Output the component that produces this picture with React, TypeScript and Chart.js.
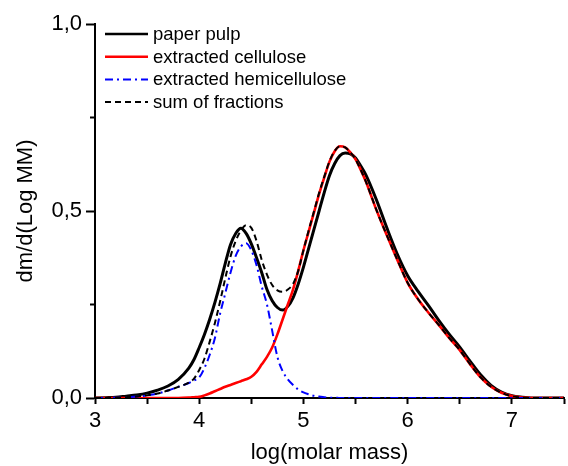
import React, { useEffect, useRef } from "react";
import { Chart, registerables } from "chart.js";

Chart.register(...registerables);

const logMass = [
  3.0, 3.1, 3.2, 3.3, 3.4, 3.5, 3.6, 3.7, 3.8, 3.9, 3.95,
  4.0, 4.05, 4.1, 4.15, 4.2, 4.25, 4.3, 4.35, 4.4, 4.45,
  4.5, 4.55, 4.6, 4.65, 4.7, 4.75, 4.8, 4.85, 4.9, 4.95,
  5.0, 5.05, 5.1, 5.15, 5.2, 5.25, 5.3, 5.35, 5.4, 5.45, 5.5, 5.55, 5.6,
  5.7, 5.8, 5.9, 6.0, 6.1, 6.2, 6.3, 6.4, 6.5, 6.6, 6.7, 6.8, 6.9,
  7.0, 7.1, 7.2, 7.3, 7.4, 7.5,
];

const paperPulp = [
  0.0, 0.001, 0.002, 0.005, 0.008, 0.013, 0.021, 0.032, 0.05, 0.08, 0.103,
  0.135, 0.17, 0.21, 0.255, 0.305, 0.36, 0.41, 0.44, 0.454, 0.44,
  0.412, 0.375, 0.335, 0.29, 0.26, 0.242, 0.235, 0.245, 0.268, 0.305,
  0.35, 0.4, 0.45, 0.5, 0.55, 0.595, 0.627, 0.648, 0.655, 0.653, 0.642, 0.62, 0.596,
  0.53, 0.455, 0.385, 0.327, 0.285, 0.247, 0.207, 0.17, 0.136, 0.098, 0.062, 0.034, 0.016,
  0.006, 0.002, 0, 0, 0, 0,
];

const cellulose = [
  0, 0, 0, 0, 0, 0, 0, 0, 0, 0.001, 0.002,
  0.003, 0.007, 0.012, 0.018, 0.024, 0.03, 0.035, 0.04, 0.045, 0.05,
  0.057, 0.07, 0.09, 0.11, 0.135, 0.17, 0.21, 0.25, 0.29, 0.34,
  0.395, 0.445, 0.495, 0.545, 0.59, 0.632, 0.66, 0.673, 0.67, 0.657, 0.638, 0.61, 0.578,
  0.503, 0.435, 0.37, 0.308, 0.264, 0.228, 0.195, 0.16, 0.128, 0.09, 0.055, 0.03, 0.014,
  0.005, 0.001, 0, 0, 0, 0,
];

const hemicellulose = [
  0, 0, 0.001, 0.002, 0.004, 0.007, 0.012, 0.02, 0.03, 0.04, 0.047,
  0.055, 0.08, 0.115, 0.16, 0.225, 0.28, 0.335, 0.38, 0.405, 0.414,
  0.395, 0.355, 0.298, 0.25, 0.18, 0.11, 0.072, 0.05, 0.035, 0.023,
  0.015, 0.01, 0.006, 0.004, 0.002, 0.001, 0.001, 0, 0, 0, 0, 0, 0,
  0, 0, 0, 0, 0, 0, 0, 0, 0, 0, 0, 0, 0,
  0, 0, 0, 0, 0, 0,
];

const sumFractions = [
  0, 0, 0.001, 0.002, 0.004, 0.007, 0.012, 0.02, 0.03, 0.041, 0.052,
  0.075, 0.105, 0.15, 0.2, 0.258, 0.32, 0.378, 0.42, 0.448, 0.462,
  0.455, 0.42, 0.369, 0.33, 0.302, 0.288, 0.284, 0.29, 0.305, 0.34,
  0.395, 0.448, 0.498, 0.548, 0.592, 0.633, 0.661, 0.673, 0.67, 0.657, 0.638, 0.61, 0.578,
  0.503, 0.435, 0.37, 0.308, 0.264, 0.228, 0.195, 0.16, 0.128, 0.09, 0.055, 0.03, 0.014,
  0.005, 0.001, 0, 0, 0, 0,
];

const seriesLabels = ["paper pulp", "extracted cellulose", "extracted hemicellulose", "sum of fractions"];
const xTitle = "log(molar mass)";
const yTitle = "dm/d(Log MM)";

const FONT = "'Liberation Sans', Arial, Helvetica, sans-serif";

const toPoints = (ys: number[]) => logMass.map((x, i) => ({ x, y: ys[i] }));

const isHalf = (v: number) => Math.abs(v * 2 - Math.round(v * 2)) < 1e-6;

const legendPlugin = {
  id: "insideLegend",
  afterDatasetsDraw(chart: any) {
    const { ctx, chartArea } = chart;
    ctx.save();
    ctx.font = `18.5px ${FONT}`;
    ctx.textBaseline = "middle";
    ctx.fillStyle = "#000";
    chart.data.datasets.forEach((ds: any, i: number) => {
      const y = chartArea.top + 10 + i * 22.7;
      const x0 = chartArea.left + 10;
      ctx.beginPath();
      ctx.strokeStyle = ds.borderColor;
      ctx.lineWidth = Math.min(ds.borderWidth, 2.5);
      ctx.setLineDash(ds.borderDash || []);
      ctx.moveTo(x0, y);
      ctx.lineTo(x0 + 43, y);
      ctx.stroke();
      ctx.setLineDash([]);
      ctx.fillText(ds.label, x0 + 48, y + 1);
    });
    ctx.restore();
  },
};

const minorTickPlugin = {
  id: "minorTicks",
  afterDraw(chart: any) {
    const { ctx } = chart;
    const ys = chart.scales.y;
    ctx.save();
    ctx.strokeStyle = "#000";
    ctx.lineWidth = 2;
    ys.ticks.forEach((t: any) => {
      if (!isHalf(t.value)) {
        const py = ys.getPixelForValue(t.value);
        ctx.beginPath();
        ctx.moveTo(ys.right - 5, py);
        ctx.lineTo(ys.right, py);
        ctx.stroke();
      }
    });
    ctx.restore();
  },
};

export default function App() {
  const ref = useRef<HTMLCanvasElement | null>(null);

  useEffect(() => {
    if (!ref.current) return;
    const chart = new Chart(ref.current, {
      type: "line",
      data: {
        datasets: [
          {
            label: seriesLabels[0],
            data: toPoints(paperPulp),
            borderColor: "#000000",
            borderWidth: 3,
            order: 4,
          },
          {
            label: seriesLabels[1],
            data: toPoints(cellulose),
            borderColor: "#ff0000",
            borderWidth: 2.6,
            order: 3,
          },
          {
            label: seriesLabels[2],
            data: toPoints(hemicellulose),
            borderColor: "#0000ff",
            borderWidth: 2,
            borderDash: [8, 4, 2, 4],
            order: 2,
          },
          {
            label: seriesLabels[3],
            data: toPoints(sumFractions),
            borderColor: "#000000",
            borderWidth: 2,
            borderDash: [6, 4],
            order: 1,
          },
        ] as any,
      },
      options: {
        responsive: false,
        animation: false,
        events: [],
        layout: { padding: { top: 24, left: 0, right: 0, bottom: 0 } },
        elements: {
          point: { radius: 0 },
          line: { cubicInterpolationMode: "monotone", fill: false },
        },
        plugins: {
          legend: { display: false },
          tooltip: { enabled: false },
        },
        scales: {
          x: {
            type: "linear",
            min: 3,
            max: 7.5,
            border: { display: true, color: "#000", width: 2 },
            grid: {
              drawOnChartArea: false,
              drawTicks: true,
              tickLength: 6,
              tickColor: "#000",
              tickWidth: 2,
            },
            ticks: {
              stepSize: 0.5,
              autoSkip: false,
              maxRotation: 0,
              padding: 4,
              color: "#000",
              font: { family: FONT, size: 22 },
              callback: (v: any) => (Number.isInteger(v) ? String(v) : ""),
            },
            title: {
              display: true,
              text: xTitle,
              color: "#000",
              font: { family: FONT, size: 22 },
              padding: { top: 0, bottom: 0 },
            },
            afterFit: (s: any) => {
              s.height = 68;
            },
          },
          y: {
            type: "linear",
            min: 0,
            max: 1,
            border: { display: true, color: "#000", width: 2 },
            grid: {
              drawOnChartArea: false,
              drawTicks: true,
              tickLength: 9,
              tickWidth: 2,
              tickColor: (c: any) => (c.tick && isHalf(c.tick.value) ? "#000" : "rgba(0,0,0,0)"),
            },
            ticks: {
              stepSize: 0.25,
              autoSkip: false,
              padding: 4,
              color: "#000",
              font: { family: FONT, size: 22 },
              callback: (v: any) => (isHalf(v) ? Number(v).toFixed(1).replace(".", ",") : ""),
            },
            title: {
              display: true,
              text: yTitle,
              color: "#000",
              font: { family: FONT, size: 22 },
              padding: { top: 13, bottom: 0 },
            },
            afterFit: (s: any) => {
              s.width = 95;
            },
          },
        },
      },
      plugins: [legendPlugin, minorTickPlugin],
    });
    return () => chart.destroy();
  }, []);

  return (
    <div style={{ position: "absolute", left: 0, top: 0, width: 568, height: 466, background: "#fff" }}>
      <canvas ref={ref} width={568} height={466} />
    </div>
  );
}
